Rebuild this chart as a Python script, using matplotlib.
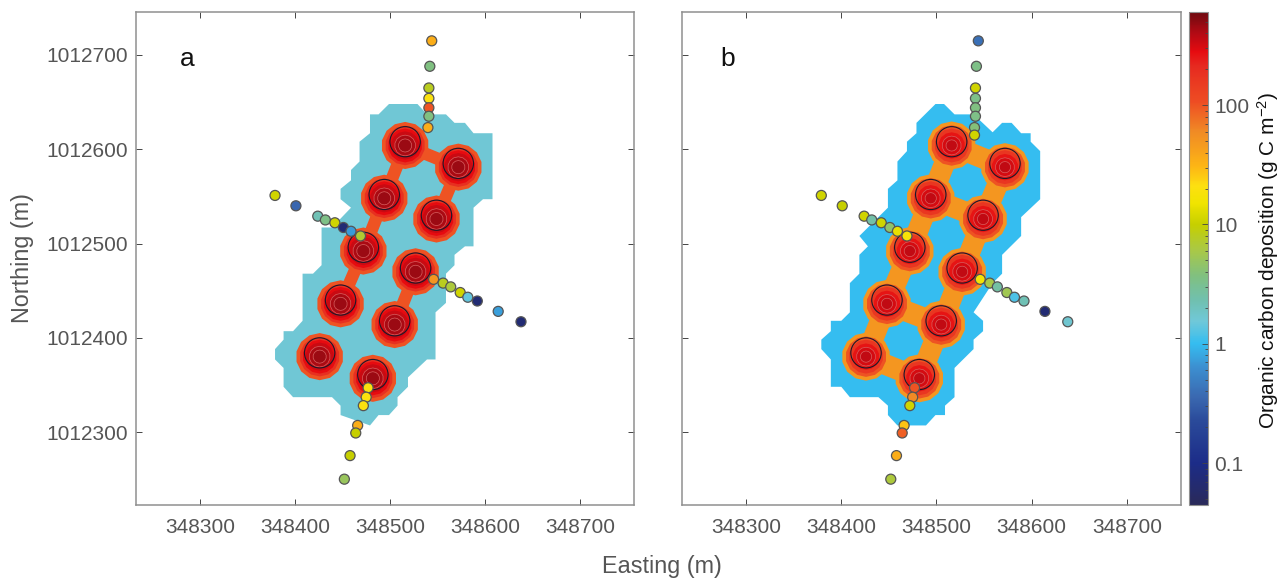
# Organic carbon deposition around the cages, two scenarios
import numpy as np
import matplotlib
matplotlib.use("Agg")
import matplotlib.pyplot as plt
from matplotlib.colors import LinearSegmentedColormap, LogNorm
from matplotlib.patches import Circle, CirclePolygon, Polygon
from matplotlib.cm import ScalarMappable

plt.rcParams['font.family'] = ['Liberation Sans', 'DejaVu Sans']
plt.rcParams['mathtext.fontset'] = 'custom'
plt.rcParams['mathtext.rm'] = 'Liberation Sans'
plt.rcParams['mathtext.default'] = 'regular'

E0 = 348000
N0 = 1012000

# cage centres, offset from E0 / N0
cage_e = [516, 572, 494, 549, 472, 527, 448, 505, 426, 482]
cage_n = [608, 585, 552, 530, 496, 474, 440, 418, 384, 361]
cage_radius = 16

# sampling stations along the four transects
station_e = [544, 542, 541, 541, 541, 541, 540, 540,
             379, 401, 424, 432, 442, 451, 459, 469,
             546, 556, 564, 574, 582, 592, 614, 638,
             477, 475, 472, 466, 464, 458, 452]
station_n = [715, 688, 665, 654, 644, 635, 623, 615,
             551, 540, 529, 525, 522, 517, 513, 508,
             462, 458, 454, 448, 443, 439, 428, 417,
             347, 337, 328, 307, 299, 275, 250]
values_a = [35, 3.7, 8, 20, 100, 3.7, 35, np.nan,
            11, 0.35, 2.2, 3.5, 11, 0.07, 0.7, 7,
            50, 8, 6.5, 11, 1.4, 0.07, 0.75, 0.07,
            20, 20, 20, 35, 10, 10, 5]
values_b = [0.4, 3.5, 11, 3.4, 3.7, 3.5, 4, 11,
            11, 10, 11, 2.5, 11, 4.5, 14, 18,
            17, 6, 2.6, 5.5, 1.2, 2.2, 0.07, 1.7,
            100, 60, 11, 27, 90, 35, 6.5]

# outer contour of the deposition footprint
outline_a_e = [499, 529, 539, 559, 568, 579, 588, 608, 608, 598, 588, 588, 579, 568, 568, 559,
               559, 548, 548, 539, 519, 519, 508, 508, 499, 488, 479, 448, 448, 439, 398, 388,
               388, 379, 379, 388, 388, 398, 408, 408, 419, 428, 428, 439, 459, 448, 448, 459,
               459, 468, 468, 479, 479, 488]
outline_a_n = [648, 648, 637, 637, 628, 628, 617, 617, 547, 547, 538, 497, 497, 488, 477, 468,
               437, 427, 377, 377, 358, 348, 337, 328, 318, 318, 307, 318, 328, 337, 337, 348,
               368, 377, 388, 398, 407, 407, 418, 468, 468, 477, 517, 517, 538, 547, 558, 567,
               578, 587, 608, 617, 637, 637]
outline_b_e = [499, 508, 519, 539, 559, 569, 579, 589, 599, 599, 609, 609, 589, 589, 569, 569, 559,
               539, 549, 549, 539, 539, 519, 519, 509, 509, 499, 489, 459, 449, 449, 439, 409,
               400, 389, 389, 379, 379, 389, 389, 400, 409, 409, 419, 419, 428, 419, 419, 449,
               449, 459, 459, 469, 469, 479, 479]
outline_b_n = [648, 648, 637, 637, 618, 628, 628, 617, 617, 608, 598, 547, 528, 508, 488, 468, 458,
               427, 418, 407, 398, 388, 368, 337, 328, 318, 318, 307, 307, 318, 328, 337, 337,
               348, 348, 377, 388, 398, 407, 418, 418, 427, 458, 468, 488, 497, 508, 508, 538,
               558, 567, 587, 598, 608, 617, 628]

# filled contour levels around each cage (radius in m, g C m-2)
ring_radius_a = [25, 21, 18, 15, 11, 7]
ring_value_a = [100, 190, 280, 340, 420, 460]
ring_radius_b = [25.5, 21.5, 18, 14, 10, 6]
ring_value_b = [50, 100, 170, 260, 320, 360]
footprint_value_a = 1.6
footprint_value_b = 1.0

# contour bridges between neighbouring cages (cage numbers)
bridges_a = [(0, 1), (0, 2), (2, 4), (1, 3), (4, 6), (5, 7)]
bridges_b = [(0, 1), (0, 2), (1, 3), (2, 3), (2, 4), (3, 5), (4, 6), (5, 7), (6, 8), (7, 9), (6, 7), (8, 9)]

# colour bar stops: log10 of the value, colour
cmap_log = [-1.35, -1.0, -0.65, -0.45, -0.2, 0.0, 0.19, 0.36, 0.57, 0.78, 1.0, 1.18, 1.32, 1.49, 1.78, 2.03, 2.33, 2.45, 2.6, 2.78]
cmap_col = ['#2a2a5a', '#1c2c88', '#2a4a9a', '#3a68b0', '#3c8fd0', '#35bdf0', '#70c8d8', '#70c0b0',
            '#80c080', '#a8c848', '#c6cf00', '#f0e400', '#fde010', '#fdb515', '#f08a25', '#ee4d23',
            '#e62a20', '#e60b10', '#b40a14', '#700a10']
xt = np.arange(348300, 348701, 100)
yt = np.arange(1012300, 1012701, 100)

W, H = 1287, 581
GREY = '#555555'
SPINE = '#909090'

low, high = cmap_log[0], cmap_log[-1]
pos = [(v - low) / (high - low) for v in cmap_log]
cmap = LinearSegmentedColormap.from_list('deposition', list(zip(pos, cmap_col)), N=512)
norm = LogNorm(10 ** low, 10 ** high)


def px_axes(left, right, top, bottom):
    return fig.add_axes([left / W, 1 - bottom / H, (right - left) / W, (bottom - top) / H])


def draw_panel(ax, out_e, out_n, foot, radii, levels, bridges, bridge_w, values, letter, letter_x):
    pts = np.column_stack([E0 + np.array(out_e), N0 + np.array(out_n)])
    ax.add_patch(Polygon(pts, closed=True, fc=cmap(norm(foot)), ec='none', zorder=1))
    ce = E0 + np.array(cage_e)
    cn = N0 + np.array(cage_n) - 4
    for i, j in bridges:
        ax.plot([ce[i], ce[j]], [cn[i], cn[j]], color=cmap(norm(levels[0])), lw=bridge_w,
                solid_capstyle='butt', zorder=2)
    for e, n in zip(ce, cn):
        for k, (r, v) in enumerate(zip(radii, levels)):
            edge = '#d86060' if k > 3 else 'none'
            ax.add_patch(CirclePolygon((e, n), r, resolution=14, fc=cmap(norm(v)), ec=edge, lw=0.5,
                                       zorder=3 + k * 0.1))
    for e, n in zip(cage_e, cage_n):
        ax.add_patch(Circle((E0 + e, N0 + n), cage_radius, fc='none', ec='#1a1a2a', lw=0.8, zorder=4))
    ax.scatter(E0 + np.array(station_e), N0 + np.array(station_n), c=values, cmap=cmap, norm=norm,
               s=52, edgecolors='#555555', linewidths=0.9, zorder=5)
    ax.set_xlim(348232.6, 348757)
    ax.set_ylim(1012222.6, 1012745.6)
    ax.set_xticks(xt)
    ax.set_yticks(yt)
    ax.ticklabel_format(useOffset=False, style='plain')
    ax.tick_params(direction='in', top=True, right=True, length=4.3, width=0.7, color='#444444',
                   labelcolor=GREY, labelsize=15, pad=6)
    ax.tick_params(axis='x', pad=9.5)
    for s in ax.spines.values():
        s.set_color(SPINE)
        s.set_linewidth(1.1)
    ax.text(letter_x, 0.904, letter, transform=ax.transAxes, fontsize=19, color='#111111', ha='center', va='center')


fig = plt.figure(figsize=(W / 100, H / 100), dpi=100)
ax1 = px_axes(136, 634, 12, 505)
ax2 = px_axes(682, 1181, 12, 505)
draw_panel(ax1, outline_a_e, outline_a_n, footprint_value_a, ring_radius_a, ring_value_a, bridges_a, 9, values_a, 'a', 0.102)
draw_panel(ax2, outline_b_e, outline_b_n, footprint_value_b, ring_radius_b, ring_value_b, bridges_b, 15, values_b, 'b', 0.092)
ax2.set_yticklabels([])

cax = px_axes(1189, 1208, 12, 505)
cb = fig.colorbar(ScalarMappable(norm=norm, cmap=cmap), cax=cax)
cb.set_ticks([0.1, 1, 10, 100])
cb.set_ticklabels(['0.1', '1', '10', '100'])
cb.ax.tick_params(which='both', direction='in', color='#444444', width=0.6, labelcolor=GREY, labelsize=15, pad=4.5)
cb.ax.tick_params(which='major', length=4)
cb.ax.tick_params(which='minor', length=2)
cb.outline.set_edgecolor(SPINE)
cb.outline.set_linewidth(0.8)
fig.text(1268 / W, 1 - 260 / H, 'Organic carbon deposition (g C m$^{-2}$)', rotation=90, ha='center', va='center',
         fontsize=15, color='#111111')

fig.text(662 / W, 1 - 566 / H, 'Easting (m)', ha='center', va='center', fontsize=16.8, color=GREY)
fig.text(22 / W, 1 - 258 / H, 'Northing (m)', rotation=90, ha='center', va='center', fontsize=16.8, color=GREY)

fig.savefig('out.png', dpi=100)
